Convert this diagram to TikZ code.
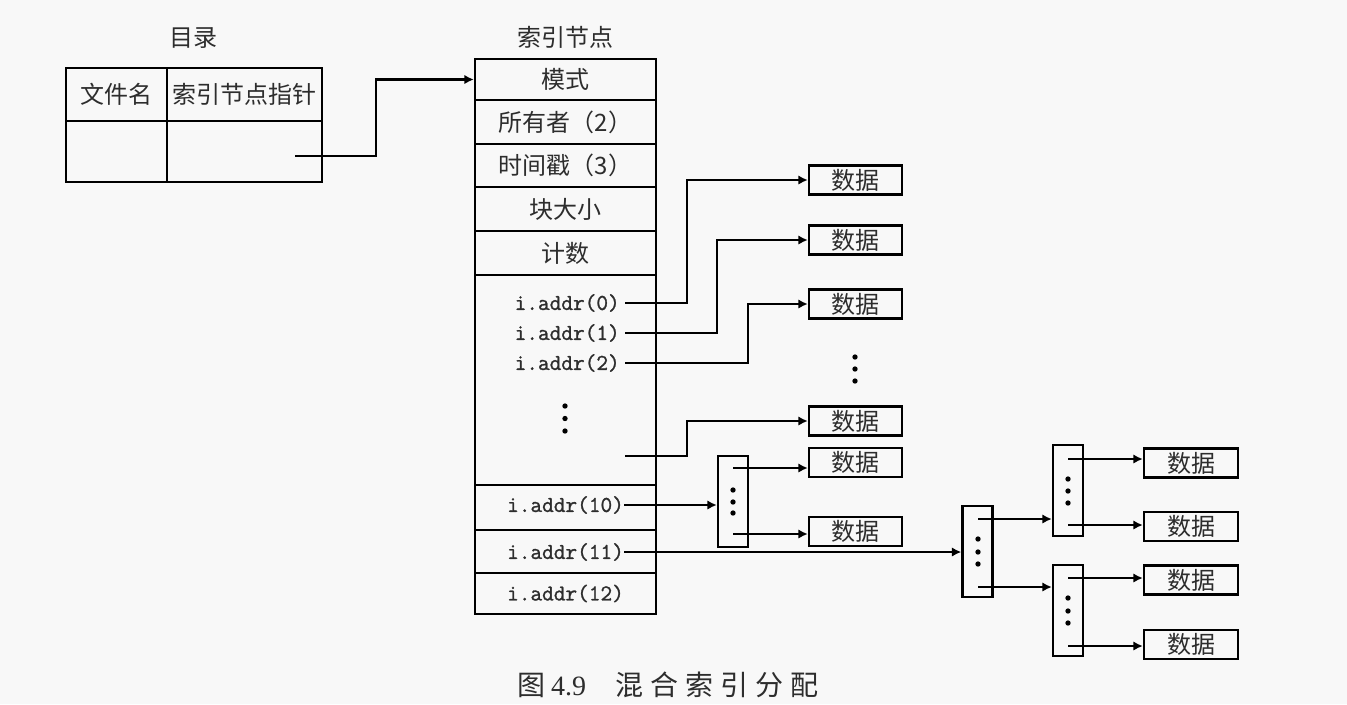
\documentclass[tikz,border=0pt]{standalone}
\usepackage{fontspec}
\newfontfamily\cjk{Noto Sans CJK SC}
\newfontfamily\capserif{Liberation Serif}
\newfontfamily\addrfont[FakeBold=1.2]{Latin Modern Mono}
\usetikzlibrary{arrows.meta}
\definecolor{bgc}{RGB}{248,248,248}
\definecolor{txt}{RGB}{45,45,45}
\newcommand\cgap{\hspace{5.25pt}}
\begin{document}
\begin{tikzpicture}[x=0.75pt,y=-0.75pt,
  cell/.style 2 args={draw, line width=1.8pt, inner sep=0pt,
    minimum width=#1*0.75pt, minimum height=#2*0.75pt,
    font=\cjk\fontsize{18}{21}\selectfont, text=txt},
  lbl/.style={font=\cjk\fontsize{18}{21}\selectfont, text=txt, inner sep=0pt},
  addr/.style={font=\addrfont\fontsize{17}{20}\selectfont, text=txt, inner sep=0pt},
  datab/.style={cell={93}{29}},
  datar/.style={cell={94}{29}},
  blk/.style={cell={30}{91}},
  conn/.style={line width=1.6pt},
  arr/.style={conn, -{Latex[length=7pt,width=7pt]}},
  dotc/.style={fill=black}
]
\fill[bgc] (0,0) rectangle (1347,704);
\useasboundingbox (0,0) rectangle (1347,704);

% ---------- directory ----------
\node[lbl] (dirlbl) at (193,38) {目录};
\node[cell={101}{53}] (dname) at (116.5,94.5) {文件名};
\node[cell={155}{53}] (dptr) at (244.5,94.5) {索引节点指针};
\node[cell={101}{61}] (dname2) at (116.5,151.5) {};
\node[cell={155}{61}] (dptr2) at (244.5,151.5) {};
\coordinate (p0) at (295,156);

% ---------- inode ----------
\node[lbl] (inolbl) at (565.5,37) {索引节点};
\node[cell={181}{41}] (mode) at (565.5,79.5) {模式};
\node[cell={181}{44}] (owner) at (565.5,122) {所有者（2）};
\node[cell={181}{43}] (time) at (565.5,165.5) {时间戳（3）};
\node[cell={181}{44}] (bsize) at (565.5,209) {块大小};
\node[cell={181}{44}] (count) at (565.5,253) {计数};
\node[cell={181}{210}] (direct) at (565.5,380) {};
\node[cell={181}{45}] (r10) at (565.5,507.5) {};
\node[cell={181}{43}] (r11) at (565.5,551.5) {};
\node[cell={181}{41}, addr] (r12) at (565.5,593.5) {i.addr(12)};

\node[addr, anchor=east] (a0) at (620,303) {i.addr(0)};
\node[addr, anchor=east] (a1) at (620,333) {i.addr(1)};
\node[addr, anchor=east] (a2) at (620,363) {i.addr(2)};
\coordinate (alast) at (625,456);
\node[addr] (a10) at (565.5,505) {i.addr(10)};
\node[addr] (a11) at (565.5,552) {i.addr(11)};

\fill[dotc] (565,406) circle[radius=2pt];
\fill[dotc] (565,418.5) circle[radius=2pt];
\fill[dotc] (565,431) circle[radius=2pt];

% ---------- direct data blocks ----------
\node[datab] (b1) at (855.5,180) {数据};
\node[datab] (b2) at (855.5,240) {数据};
\node[datab] (b3) at (855.5,304) {数据};
\node[datab] (b4) at (855.5,421) {数据};
\node[datab] (b5) at (855.5,462.5) {数据};
\node[datab] (b6) at (855.5,531.5) {数据};

\fill[dotc] (855,357) circle[radius=2pt];
\fill[dotc] (855,369) circle[radius=2pt];
\fill[dotc] (855,381) circle[radius=2pt];

% ---------- single indirect ----------
\node[blk] (ind1) at (733,501.5) {};
\fill[dotc] (733,490) circle[radius=2pt];
\fill[dotc] (733,502) circle[radius=2pt];
\fill[dotc] (733,513) circle[radius=2pt];
\coordinate (i1a) at (733,468);
\coordinate (i1b) at (733,534);

% ---------- double indirect ----------
\node[blk] (ind2) at (977.5,551.5) {};
\fill[dotc] (978,539) circle[radius=2pt];
\fill[dotc] (978,552) circle[radius=2pt];
\fill[dotc] (978,564) circle[radius=2pt];
\coordinate (i2a) at (978,519);
\coordinate (i2b) at (978,587);

\node[blk] (ind2a) at (1068,490.5) {};
\node[blk] (ind2b) at (1068,610.5) {};
\fill[dotc] (1068,479) circle[radius=2pt];
\fill[dotc] (1068,491) circle[radius=2pt];
\fill[dotc] (1068,503) circle[radius=2pt];
\fill[dotc] (1068,598) circle[radius=2pt];
\fill[dotc] (1068,611) circle[radius=2pt];
\fill[dotc] (1068,623) circle[radius=2pt];
\coordinate (j1) at (1068,459);
\coordinate (j2) at (1068,525);
\coordinate (j3) at (1068,578);
\coordinate (j4) at (1068,646);

\node[datar] (c1) at (1191,463) {数据};
\node[datar] (c2) at (1191,526.5) {数据};
\node[datar] (c3) at (1191,580) {数据};
\node[datar] (c4) at (1191,644.5) {数据};

% ---------- connectors ----------
\draw[arr] (p0) -- (376,156) |- (mode.west);
\draw[arr] ([xshift=3.75pt]a0.east) -- ++(62,0) |- (b1.west);
\draw[arr] ([xshift=3.75pt]a1.east) -- ++(92,0) |- (b2.west);
\draw[arr] ([xshift=3.75pt]a2.east) -- ++(123,0) |- (b3.west);
\draw[arr] (alast) -- ++(62,0) |- (b4.west);
\draw[arr] (a10.east) -- (a10.east -| ind1.west);
\draw[arr] (i1a) -- (i1a -| b5.west);
\draw[arr] (i1b) -- (i1b -| b6.west);
\draw[arr] (a11.east) -- (a11.east -| ind2.west);
\draw[arr] (i2a) -- (i2a -| ind2a.west);
\draw[arr] (i2b) -- (i2b -| ind2b.west);
\draw[arr] (j1) -- (j1 -| c1.west);
\draw[arr] (j2) -- (j2 -| c2.west);
\draw[arr] (j3) -- (j3 -| c3.west);
\draw[arr] (j4) -- (j4 -| c4.west);

% ---------- caption ----------
\node[font=\cjk\fontsize{21}{24}\selectfont, text=txt, inner sep=0pt] (cap) at (668,685)
  {图\hspace{4pt}{\capserif 4.9}\hspace{22pt}混\cgap 合\cgap 索\cgap 引\cgap 分\cgap 配};
\end{tikzpicture}
\end{document}
